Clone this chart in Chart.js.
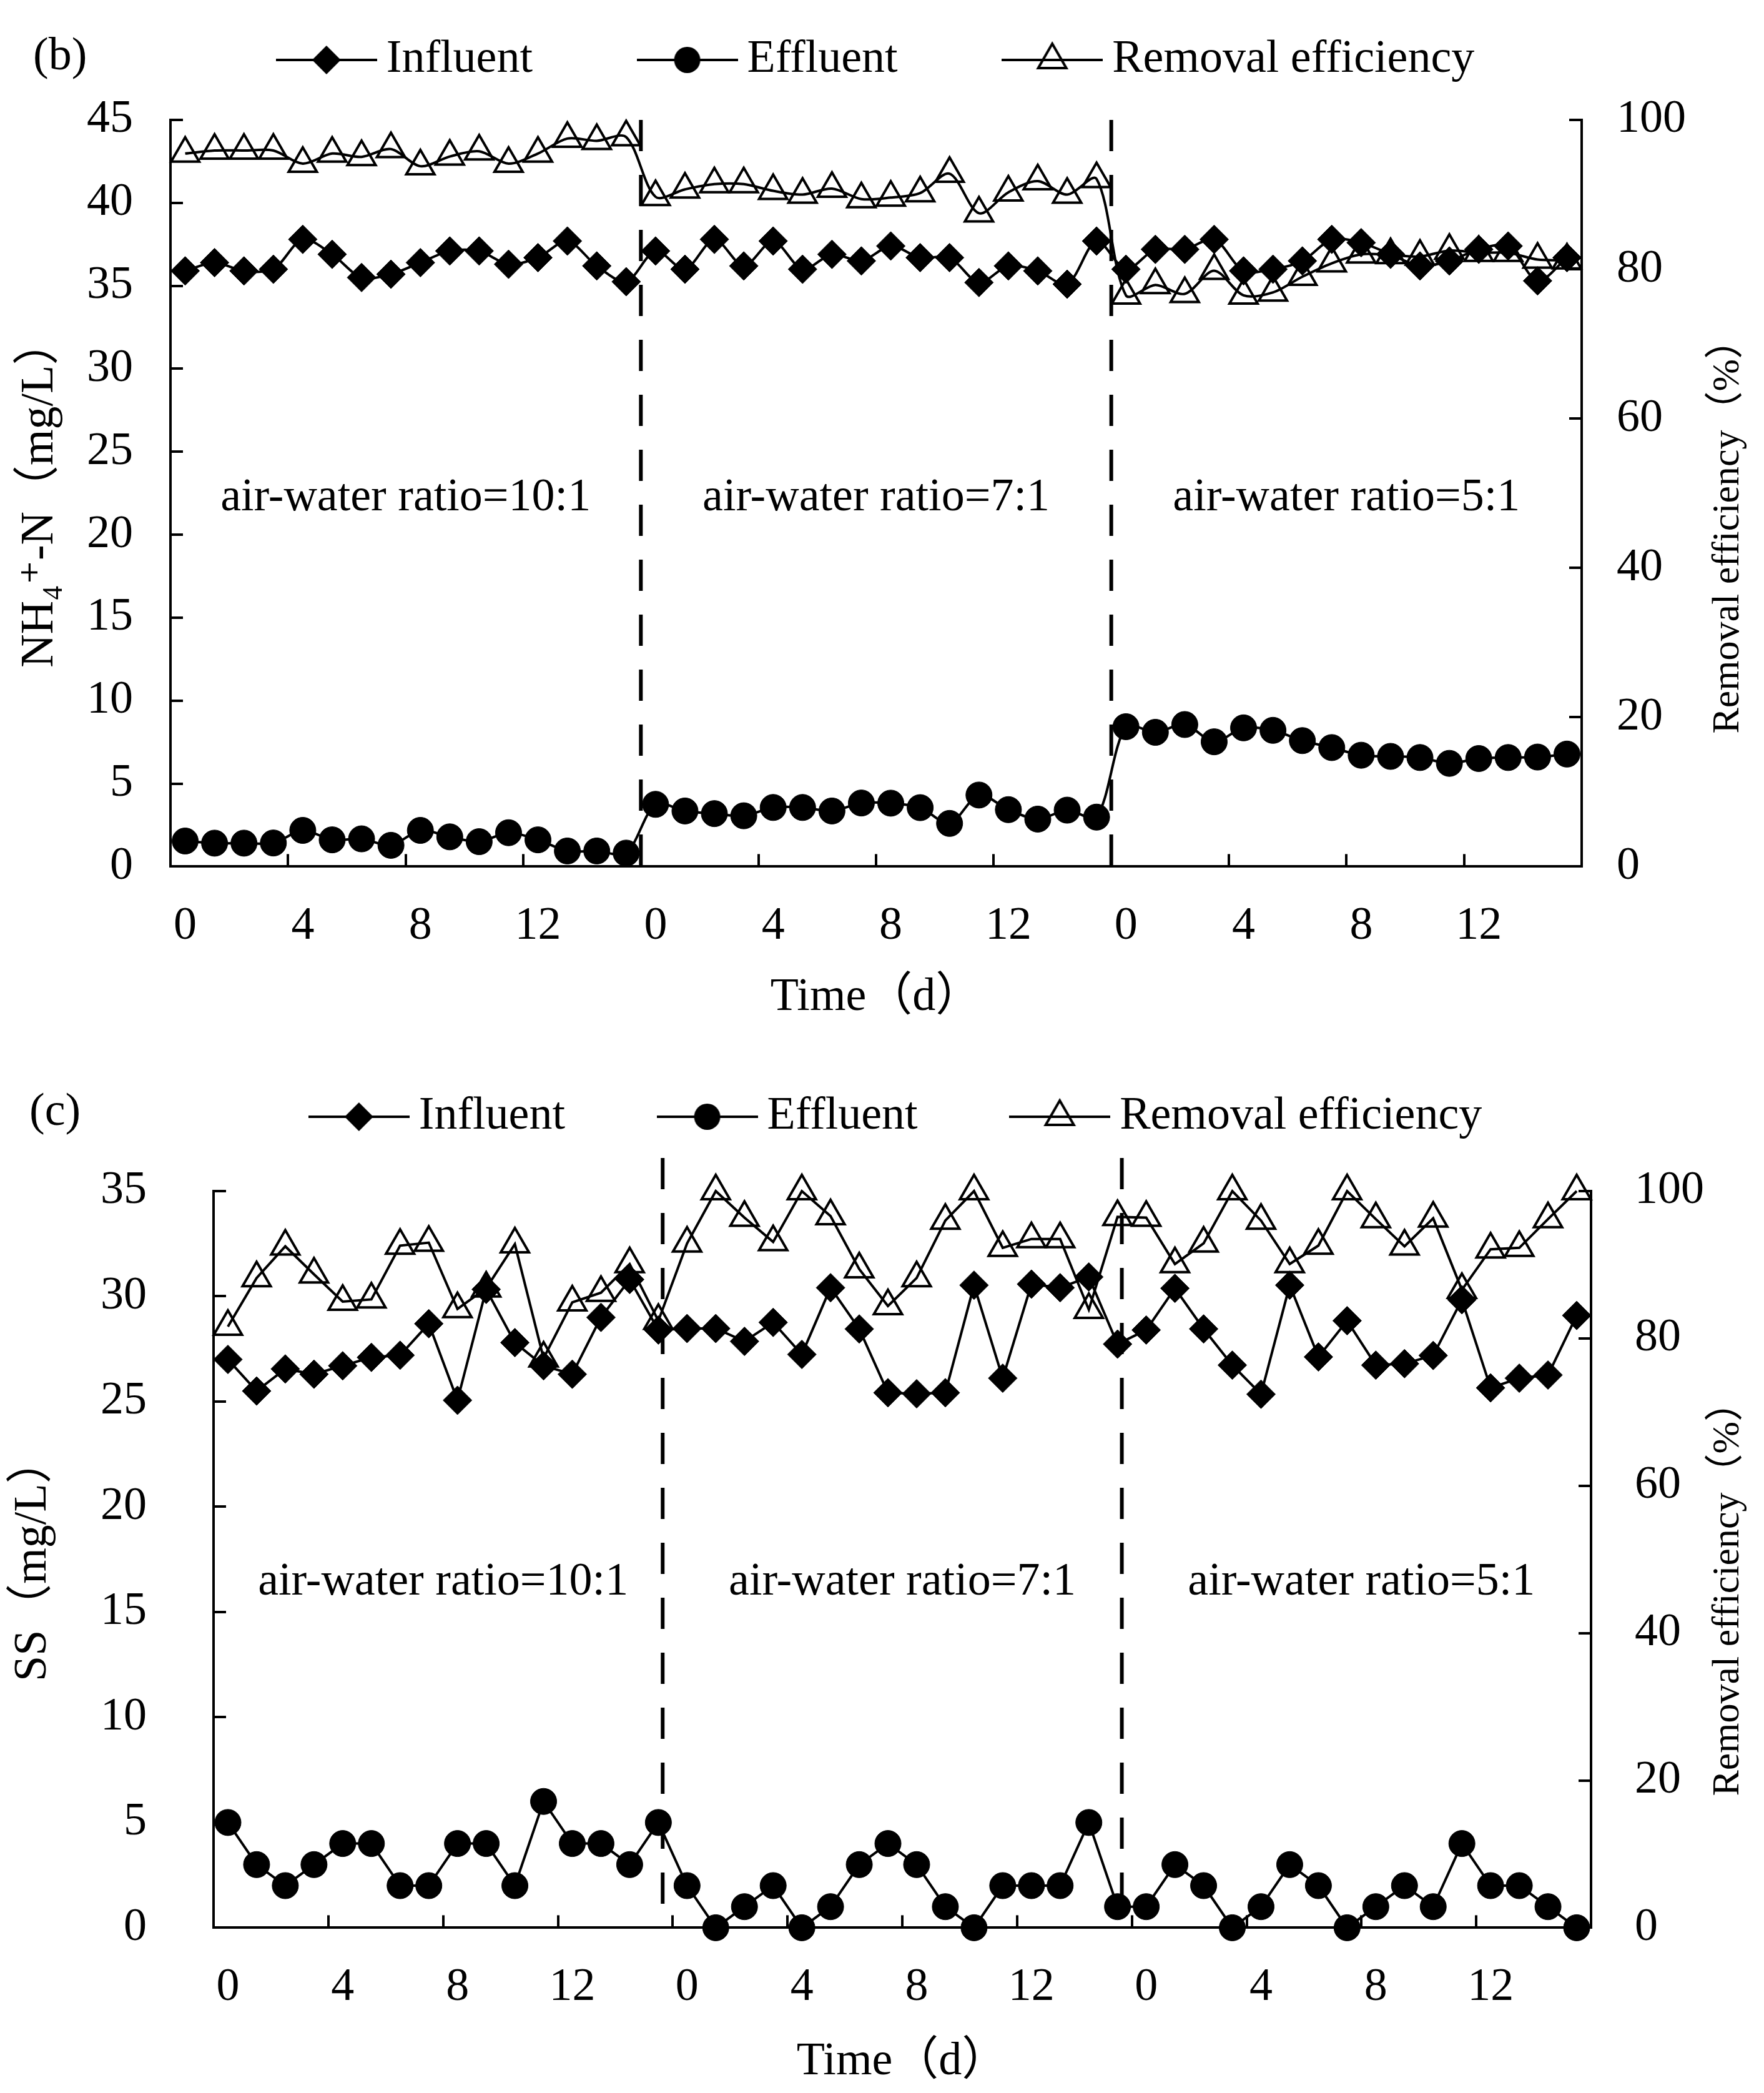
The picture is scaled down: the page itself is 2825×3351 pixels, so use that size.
<!DOCTYPE html>
<html>
<head>
<meta charset="utf-8">
<script src="https://cdn.jsdelivr.net/npm/chart.js@4.4.0/dist/chart.umd.min.js"></script>
<style>
  html, body { margin: 0; padding: 0; background: #fff; }
  #wrap { position: relative; width: 2825px; height: 3351px; }
  canvas { position: absolute; left: 0; }
  #chartB { top: 0; }
  #chartC { top: 1675px; }
</style>
</head>
<body>
<div id="wrap">
  <canvas id="chartB" width="2825" height="1675"></canvas>
  <canvas id="chartC" width="2825" height="1676"></canvas>
</div>
<script>
// Days within each aeration phase (three phases back to back)
var days = ['0', '1', '2', '3', '4', '5', '6', '7', '8', '9', '10', '11', '12', '13', '14', '15'];
var categories = days.concat(days, days);
var seriesNames = ['Influent', 'Effluent', 'Removal efficiency'];
var phaseNames = ['air-water ratio=10:1', 'air-water ratio=7:1', 'air-water ratio=5:1'];

// (b) NH4+-N, mg/L and %
var nhInfluent = [35.9, 36.4, 35.9, 36.0, 37.8, 36.9, 35.5, 35.7, 36.4, 37.1, 37.1, 36.3, 36.7, 37.7, 36.2, 35.25,
                  37.1, 36.0, 37.8, 36.2, 37.7, 36.0, 36.9, 36.5, 37.4, 36.7, 36.7, 35.2, 36.2, 35.9, 35.1, 37.7,
                  36.0, 37.2, 37.2, 37.8, 35.9, 36.0, 36.5, 37.8, 37.6, 36.9, 36.2, 36.5, 37.2, 37.4, 35.3, 36.7];
var nhEffluent = [1.54, 1.41, 1.41, 1.42, 2.18, 1.61, 1.67, 1.28, 2.18, 1.79, 1.50, 2.04, 1.61, 0.94, 0.94, 0.81,
                  3.75, 3.35, 3.19, 3.06, 3.56, 3.56, 3.35, 3.83, 3.82, 3.55, 2.60, 4.31, 3.43, 2.86, 3.40, 2.98,
                  8.43, 8.09, 8.56, 7.52, 8.36, 8.21, 7.59, 7.17, 6.71, 6.64, 6.57, 6.22, 6.51, 6.57, 6.60, 6.78];
var nhRemoval = [95.5, 95.9, 95.9, 95.9, 94.15, 95.5, 95.05, 96.1, 93.8, 95.1, 95.8, 94.15, 95.5, 97.5, 97.2, 97.7,
                 89.7, 90.7, 91.4, 91.4, 90.5, 90.0, 90.8, 89.4, 89.6, 90.2, 92.8, 87.5, 90.3, 91.8, 90.0, 92.1,
                 76.5, 77.9, 76.7, 79.8, 76.5, 76.9, 79.0, 80.8, 82.0, 81.9, 81.7, 82.5, 82.2, 82.2, 81.3, 81.2];

// (c) SS, mg/L and %
var ssInfluent = [27.0, 25.5, 26.55, 26.3, 26.7, 27.1, 27.2, 28.7, 25.06, 30.33, 27.8, 26.7, 26.3, 29.0, 30.8, 28.4,
                  28.47, 28.47, 27.86, 28.76, 27.24, 30.41, 28.45, 25.42, 25.37, 25.42, 30.53, 26.11, 30.58, 30.41, 30.92, 27.73,
                  28.4, 30.38, 28.45, 26.73, 25.35, 30.53, 27.12, 28.84, 26.73, 26.8, 27.19, 29.84, 25.65, 26.11, 26.26, 29.09];
var ssEffluent = [5, 3, 2, 3, 4, 4, 2, 2, 4, 4, 2, 6, 4, 4, 3, 5,
                  2, 0, 1, 2, 0, 1, 3, 4, 3, 1, 0, 2, 2, 2, 5, 1,
                  1, 3, 2, 0, 1, 3, 2, 0, 1, 2, 1, 4, 2, 2, 1, 0];
var ssRemoval = [81.6, 88.2, 92.5, 88.7, 85.0, 85.3, 92.6, 93.0, 84.0, 86.8, 92.8, 77.3, 84.9, 86.2, 90.1, 82.4,
                 92.9, 100, 96.4, 93.1, 100, 96.6, 89.4, 84.4, 88.2, 96.0, 100, 92.3, 93.5, 93.5, 83.9, 96.5,
                 96.4, 90.1, 92.9, 100, 96.0, 90.1, 92.6, 100, 96.2, 92.5, 96.3, 86.6, 92.1, 92.3, 96.2, 100];

var FONT = "'Liberation Serif', 'Times New Roman', 'DejaVu Serif', 'Noto Sans CJK SC', serif";
var TXT = 74;
var TICK = 20;

Chart.defaults.font.family = FONT;
Chart.defaults.font.size = TXT;
Chart.defaults.color = '#000';

// legend glyph: short line with the series marker on it
function glyph(style) {
  var c = document.createElement('canvas');
  c.width = 162;
  c.height = 64;
  var g = c.getContext('2d');
  var x = 81, y = 32;
  g.strokeStyle = '#000';
  g.fillStyle = '#000';
  g.lineWidth = 4;
  g.beginPath();
  g.moveTo(0, y);
  g.lineTo(162, y);
  g.stroke();
  g.beginPath();
  if (style === 'rectRot') {
    g.moveTo(x, y - 23); g.lineTo(x + 23, y); g.lineTo(x, y + 23); g.lineTo(x - 23, y);
    g.closePath();
    g.fill();
  } else if (style === 'circle') {
    g.arc(x, y, 21, 0, Math.PI * 2);
    g.fill();
  } else {
    g.moveTo(x, y - 26); g.lineTo(x + 22.5, y + 13); g.lineTo(x - 22.5, y + 13);
    g.closePath();
    g.stroke();
  }
  return c;
}
var glyphs = [glyph('rectRot'), glyph('circle'), glyph('triangle')];

function lineSets(inf, eff, rem, tension) {
  var common = { borderColor: '#000', borderWidth: 4, pointBorderColor: '#000', tension: tension, clip: false, fill: false };
  return [
    Object.assign({ label: seriesNames[0], data: inf, yAxisID: 'y', pointStyle: 'rectRot', pointRadius: 23,
      pointBackgroundColor: '#000', pointBorderWidth: 1 }, common),
    Object.assign({ label: seriesNames[1], data: eff, yAxisID: 'y', pointStyle: 'circle', pointRadius: 21,
      pointBackgroundColor: '#000', pointBorderWidth: 1 }, common),
    Object.assign({ label: seriesNames[2], data: rem, yAxisID: 'y1', pointStyle: 'triangle', pointRadius: 26,
      pointBackgroundColor: 'rgba(0,0,0,0)', pointBorderWidth: 4 }, common)
  ];
}

// phase separators, phase captions, panel letter and right axis title
function phasePlugin(cfg) {
  return {
    id: 'phases',
    afterDatasetsDraw: function (chart) {
      var ctx = chart.ctx, x = chart.scales.x, y = chart.scales.y, r = chart.scales.y1, area = chart.chartArea;
      ctx.save();
      ctx.strokeStyle = '#000';
      ctx.lineWidth = 6;
      ctx.setLineDash([50, 38]);
      cfg.breaks.forEach(function (b) {
        var px = x.getPixelForValue(b);
        ctx.beginPath();
        ctx.moveTo(px, area.top - cfg.overshoot);
        ctx.lineTo(px, area.bottom);
        ctx.stroke();
      });
      ctx.setLineDash([]);

      ctx.fillStyle = '#000';
      ctx.font = TXT + 'px ' + FONT;
      ctx.textAlign = 'center';
      ctx.textBaseline = 'middle';
      phaseNames.forEach(function (t, i) {
        var first = i * days.length, last = first + days.length - 1;
        var px = (x.getPixelForValue(first) + x.getPixelForValue(last)) / 2;
        ctx.fillText(t, px, y.getPixelForValue(cfg.captionLevel));
      });

      ctx.textAlign = 'left';
      ctx.fillText(cfg.panel, cfg.panelX, cfg.panelY);

      ctx.font = '62px ' + FONT;
      ctx.translate(r.right - 57, (area.top + area.bottom) / 2 + cfg.rightTitleShift);
      ctx.rotate(-Math.PI / 2);
      ctx.textAlign = 'center';
      ctx.fillText('Removal efficiency（%）', 0, 0);
      ctx.restore();
    }
  };
}

function buildChart(id, cfg) {
  var gap = ' '.repeat(cfg.legendGap);
  return new Chart(document.getElementById(id).getContext('2d'), {
    type: 'line',
    data: { labels: categories, datasets: lineSets(cfg.inf, cfg.eff, cfg.rem, cfg.tension) },
    options: {
      responsive: false,
      animation: false,
      devicePixelRatio: 1,
      events: [],
      layout: { padding: { top: 0, left: cfg.leftShift, right: 0, bottom: cfg.bottomPad } },
      plugins: {
        tooltip: { enabled: false },
        legend: {
          position: 'top',
          labels: {
            usePointStyle: true,
            pointStyleWidth: 118,
            padding: cfg.legendPad,
            color: '#000',
            font: { size: TXT },
            generateLabels: function (chart) {
              return chart.data.datasets.map(function (ds, i) {
                return {
                  text: ds.label + (i < 2 ? gap : ''),
                  pointStyle: glyphs[i],
                  fillStyle: 'rgba(0,0,0,0)',
                  strokeStyle: 'rgba(0,0,0,0)',
                  lineWidth: 0,
                  fontColor: '#000',
                  hidden: false,
                  datasetIndex: i
                };
              });
            }
          }
        },
        // empty spacer between the legend row and the plot
        subtitle: { display: true, text: '', weight: 100, font: { size: 10 }, padding: { top: cfg.legendGapBelow, bottom: 0 } }
      },
      scales: {
        x: {
          type: 'category',
          offset: true,
          border: { display: true, color: '#000', width: 4 },
          grid: {
            offset: true, drawOnChartArea: false, drawTicks: true, tickLength: -TICK, lineWidth: 4,
            color: function (c) { return c.index % 4 === 0 ? '#000' : 'rgba(0,0,0,0)'; }
          },
          ticks: {
            autoSkip: false, maxRotation: 0, minRotation: 0, padding: 52 + TICK, color: '#000',
            callback: function (v, i) { return i % 4 === 0 ? this.getLabelForValue(v) : ''; }
          },
          title: { display: true, text: 'Time（d）', color: '#000', font: { size: TXT }, padding: { top: cfg.xTitlePad, bottom: 0 } }
        },
        y: {
          type: 'linear',
          position: 'left',
          min: 0,
          max: cfg.yMax,
          border: { display: true, color: '#000', width: 4 },
          grid: { drawOnChartArea: false, tickLength: -TICK, lineWidth: 4, color: '#000' },
          ticks: { stepSize: 5, padding: cfg.leftPad, color: '#000' },
          title: { display: true, text: cfg.yTitle, color: '#000', font: { size: TXT }, padding: { top: cfg.leftTitlePad, bottom: 0 } },
          afterFit: function (s) { s.width = cfg.leftWidth; }
        },
        y1: {
          type: 'linear',
          position: 'right',
          min: 0,
          max: 100,
          border: { display: true, color: '#000', width: 4 },
          grid: { drawOnChartArea: false, tickLength: -TICK, lineWidth: 4, color: '#000' },
          ticks: { stepSize: 20, padding: cfg.rightPad, color: '#000' },
          afterFit: function (s) { s.width = cfg.rightWidth; }
        }
      }
    },
    plugins: [phasePlugin(cfg)]
  });
}

buildChart('chartB', {
  inf: nhInfluent, eff: nhEffluent, rem: nhRemoval, tension: 0.3,
  yMax: 45, yTitle: 'NH₄⁺-N（mg/L）',
  leftShift: 0, leftWidth: 273, rightWidth: 292, leftPad: 80, rightPad: 76, leftTitlePad: 20,
  legendPad: 59, legendGap: 7, legendGapBelow: 37, xTitlePad: -47, bottomPad: 33,
  breaks: [15.5, 31.5], overshoot: 0, captionLevel: 22.2,
  panel: '(b)', panelX: 53, panelY: 92, rightTitleShift: 54
});

buildChart('chartC', {
  inf: ssInfluent, eff: ssEffluent, rem: ssRemoval, tension: 0,
  yMax: 35, yTitle: 'SS（mg/L）',
  leftShift: 64, leftWidth: 278, rightWidth: 277, leftPad: 127, rightPad: 90, leftTitlePad: -55,
  legendPad: 76, legendGap: 5, legendGapBelow: 60, xTitlePad: -42, bottomPad: 5,
  breaks: [15.15, 31.15], overshoot: 53, captionLevel: 16.4,
  panel: '(c)', panelX: 47, panelY: 107, rightTitleShift: 48
});
</script>
</body>
</html>
